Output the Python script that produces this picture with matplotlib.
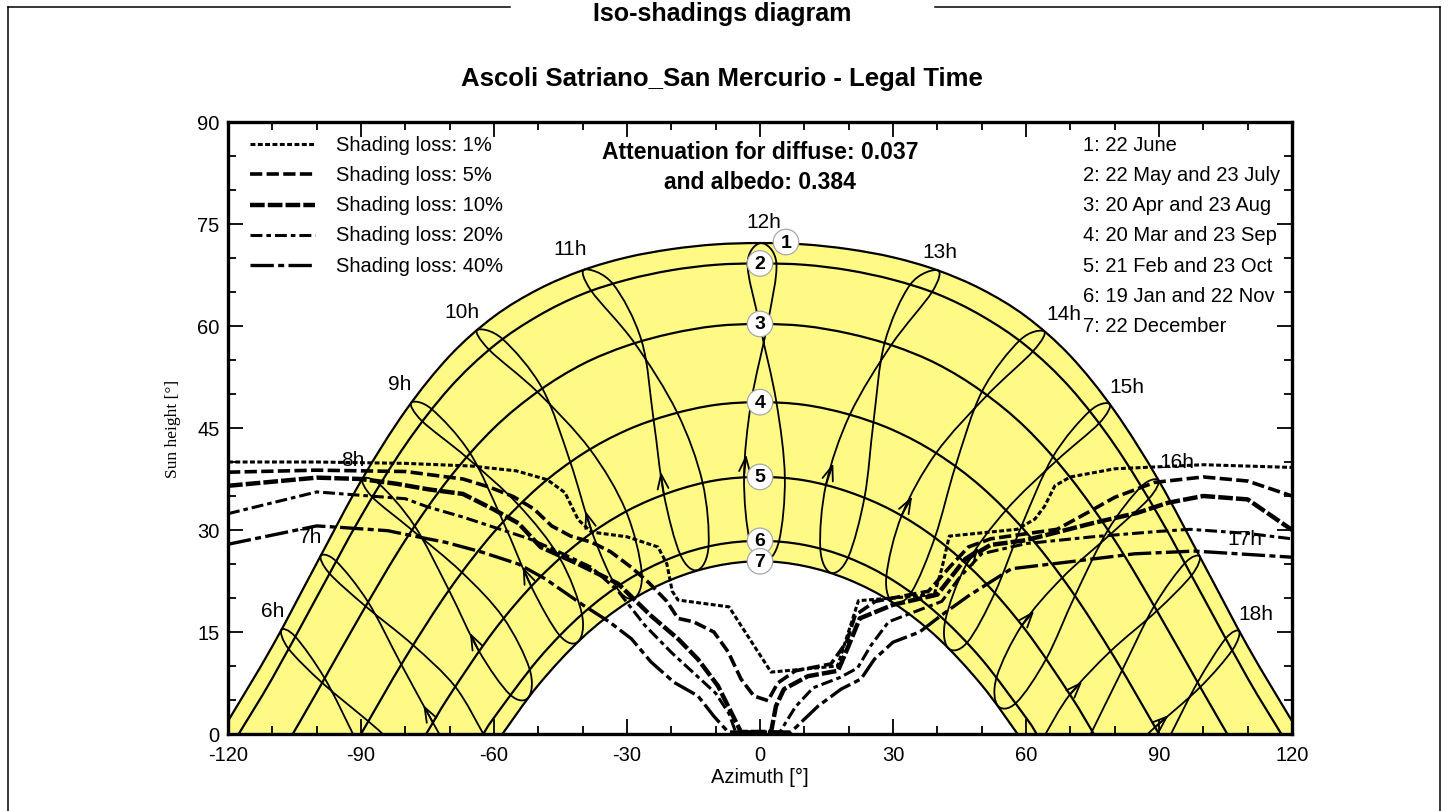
import matplotlib.pyplot as plt
from matplotlib.lines import Line2D
from matplotlib.path import Path
from matplotlib.patches import PathPatch

plt.rcParams['font.family'] = ['Liberation Sans', 'DejaVu Sans']
plt.rcParams['axes.unicode_minus'] = False

# sun paths for the 7 reference dates (azimuth [deg], sun height [deg])
date_labels = ['1', '2', '3', '4', '5', '6', '7']
c1_az = [-120, -110, -100, -90, -80, -70, -60, -50, -40, -30, -20, -10, 0,
         10, 20, 30, 40, 50, 60, 70, 80, 90, 100, 110, 120]
c1_h = [1.9, 12.9, 25.1, 37.2, 47.5, 55.6, 61.4, 65.4, 68.2, 70.1, 71.3, 72.0, 72.2,
        72.0, 71.3, 70.1, 68.2, 65.4, 61.4, 55.6, 47.5, 37.2, 25.1, 12.9, 1.9]
c2_az = [-117.6, -110, -100, -90, -80, -70, -60, -50, -40, -30, -20, -10, 0,
         10, 20, 30, 40, 50, 60, 70, 80, 90, 100, 110, 117.6]
c2_h = [0, 8.2, 20.1, 32.0, 42.5, 50.9, 57.1, 61.5, 64.7, 66.8, 68.2, 69.0, 69.2,
        69.0, 68.2, 66.8, 64.7, 61.5, 57.1, 50.9, 42.5, 32.0, 20.1, 8.2, 0]
c3_az = [-105.4, -100, -90, -80, -70, -60, -50, -40, -30, -20, -10, 0,
         10, 20, 30, 40, 50, 60, 70, 80, 90, 100, 105.4]
c3_h = [0, 6.1, 17.6, 28.5, 37.7, 45.0, 50.4, 54.4, 57.1, 58.9, 60.0, 60.3,
        60.0, 58.9, 57.1, 54.4, 50.4, 45.0, 37.7, 28.5, 17.6, 6.1, 0]
c4_az = [-90, -80, -70, -60, -50, -40, -30, -20, -10, 0, 10, 20, 30, 40, 50, 60, 70, 80, 90]
c4_h = [0, 11.2, 21.3, 29.7, 36.3, 41.2, 44.7, 47.0, 48.4, 48.8,
        48.4, 47.0, 44.7, 41.2, 36.3, 29.7, 21.3, 11.2, 0]
c5_az = [-75.3, -70, -60, -50, -40, -30, -20, -10, 0, 10, 20, 30, 40, 50, 60, 70, 75.3]
c5_h = [0, 5.7, 15.2, 22.8, 28.6, 32.8, 35.6, 37.3, 37.8, 37.3, 35.6, 32.8, 28.6, 22.8, 15.2, 5.7, 0]
c6_az = [-62.4, -60, -50, -40, -30, -20, -10, 0, 10, 20, 30, 40, 50, 60, 62.4]
c6_h = [0, 2.4, 11.0, 17.7, 22.6, 25.9, 27.8, 28.4, 27.8, 25.9, 22.6, 17.7, 11.0, 2.4, 0]
c7_az = [-58.1, -50, -40, -30, -20, -10, 0, 10, 20, 30, 40, 50, 58.1]
c7_h = [0, 7.2, 14.2, 19.3, 22.7, 24.7, 25.4, 24.7, 22.7, 19.3, 14.2, 7.2, 0]
date_az = [c1_az, c2_az, c3_az, c4_az, c5_az, c6_az, c7_az]
date_h = [c1_h, c2_h, c3_h, c4_h, c5_h, c6_h, c7_h]
date_names = ['1: 22 June', '2: 22 May and 23 July', '3: 20 Apr and 23 Aug',
              '4: 20 Mar and 23 Sep', '5: 21 Feb and 23 Oct', '6: 19 Jan and 22 Nov',
              '7: 22 December']

# hour lines (analemmas), points on the date curves through the year
hour_names = ['6h', '7h', '8h', '9h', '10h', '11h', '12h', '13h', '14h', '15h', '16h', '17h', '18h']
hour_az = [
    [-91.8, -98.2, -104.8, -108.0, -106.3, -98.7, -88.4, -85.1],
    [-72.3, -73.8, -80.9, -88.4, -95.6, -99.1, -97.1, -89.0, -78.3, -68.8, -62.4],
    [-52.2, -56.4, -63.4, -70.2, -77.9, -85.8, -89.7, -87.4, -78.5, -67.3, -57.9, -52.0, -52.2],
    [-41.0, -45.2, -51.6, -58.0, -65.4, -74.1, -78.7, -76.2, -66.2, -54.5, -45.2, -40.2, -41.0],
    [-28.3, -32.4, -37.9, -42.8, -49.1, -58.1, -63.8, -61.1, -50.2, -38.4, -30.3, -26.7, -28.3],
    [-14.1, -18.0, -21.7, -24.0, -26.7, -33.2, -39.6, -38.1, -28.3, -18.7, -13.0, -11.6, -14.1],
    [1.0, -2.3, -3.6, -2.0, 1.7, 3.7, 0.3, -2.8, -0.1, 3.7, 5.6, 4.3, 1.0],
    [16.0, 13.6, 14.9, 20.3, 29.6, 38.8, 40.1, 33.9, 28.1, 25.6, 23.6, 19.9, 16.0],
    [30.0, 28.5, 32.0, 39.7, 51.2, 61.6, 64.1, 58.6, 50.1, 44.1, 39.5, 34.2, 30.0],
    [42.5, 41.8, 46.6, 55.6, 66.9, 76.5, 78.9, 74.4, 66.1, 59.0, 53.0, 46.8, 42.5],
    [53.6, 53.4, 59.1, 68.2, 79.1, 87.7, 89.9, 86.0, 78.5, 71.1, 64.6, 57.8, 53.6],
    [64.4, 69.9, 79.1, 89.5, 97.3, 99.2, 95.8, 88.9, 81.7, 74.6],
    [87.5, 89.1, 99.3, 106.5, 108.1, 105.0, 98.7, 92.7],
]
hour_h = [
    [0, 8.2, 14.3, 15.3, 12.5, 7.5, 1.9, 0],
    [0, 1.7, 10.2, 19.4, 25.4, 26.2, 23.6, 18.8, 13.1, 7.0, 0],
    [5.4, 5.8, 12.2, 21.2, 30.6, 36.7, 37.5, 34.8, 30.0, 23.8, 17.1, 9.6, 5.4],
    [13.6, 14.5, 21.7, 31.3, 41.3, 47.8, 48.7, 46.0, 40.7, 33.7, 25.9, 17.7, 13.6],
    [20.0, 21.6, 29.7, 40.0, 50.8, 58.1, 59.4, 56.5, 50.3, 41.9, 32.9, 23.9, 20.0],
    [24.1, 26.4, 35.3, 46.2, 57.8, 66.2, 68.3, 65.2, 57.5, 47.3, 37.1, 27.7, 24.1],
    [25.4, 28.4, 37.8, 48.8, 60.3, 69.2, 72.2, 69.2, 60.3, 48.8, 37.8, 28.4, 25.4],
    [23.7, 27.3, 36.7, 47.0, 57.2, 65.0, 68.2, 66.1, 57.5, 45.9, 34.9, 26.0, 23.7],
    [19.3, 23.2, 32.2, 41.3, 49.8, 56.3, 59.2, 57.9, 50.4, 39.4, 29.0, 20.9, 19.3],
    [12.6, 16.7, 25.0, 33.0, 40.2, 45.7, 48.5, 47.5, 40.8, 30.6, 20.8, 13.5, 12.6],
    [4.2, 8.4, 16.0, 23.0, 29.4, 34.6, 37.3, 36.4, 30.0, 20.4, 11.1, 4.6, 4.2],
    [0, 5.8, 12.2, 18.1, 23.3, 26.1, 25.1, 18.8, 9.4, 0],
    [0, 1.0, 6.9, 12.3, 15.1, 14.0, 7.6, 0],
]
# index of the spring point where the direction arrow sits
hour_arrow = [None, 1, 2, 2, 2, 2, 2, 2, 2, 2, 2, 1, 1]

# iso-shading curves (azimuth [deg], sun height [deg])
iso_names = ['Shading loss: 1%', 'Shading loss: 5%', 'Shading loss: 10%',
             'Shading loss: 20%', 'Shading loss: 40%']
iso1_az = [-120, -100, -80, -65, -55, -48, -44, -41, -38, -30, -23, -21, -19.8, -18.5, -7,
           2.5, 17.5, 22.2, 39.3, 41, 42.7, 58, 62, 64.2, 66.5, 70, 80, 100, 120]
iso1_h = [40.0, 40.0, 39.8, 39.4, 38.7, 37.4, 35.5, 31.5, 29.7, 29.0, 27.5, 25.0, 21.0, 19.7, 18.7,
          9.1, 10.0, 19.6, 20.5, 24.3, 29.1, 30.1, 31.6, 33.5, 36.5, 37.8, 39.0, 39.6, 39.2]
iso5_az = [-120, -100, -80, -67, -61, -55.6, -51, -47, -42.7, -38, -33.7, -29, -25, -21, -18.5,
           -15, -10.4, -7.2, -4.3, -1.4, 1.8, 4, 8, 16, 19.5, 21.5, 26, 38, 43, 47, 52, 67, 74,
           80, 89, 100, 110, 120]
iso5_h = [38.5, 38.8, 38.6, 37.5, 36.3, 34.9, 33.1, 30.6, 29.1, 28.2, 26.8, 24.5, 22.2, 19.5, 17.0,
          16.5, 15.0, 12.1, 8.1, 5.6, 4.9, 7.5, 9.3, 10.3, 13.5, 17.5, 19.5, 21.0, 24.7, 27.5, 28.7,
          30.1, 32.6, 34.8, 37.0, 37.8, 37.2, 35.0]
iso10_az = [-120, -100, -90, -82, -75, -67, -60, -54.5, -49.5, -41, -32, -24.6, -18.5, -14,
            -9.5, -7.2, -4.3, 2.5, 3.6, 5.4, 10.8, 17.6, 20, 22.5, 30, 40, 46, 52, 60, 66, 75,
            85, 92, 100, 110, 120]
iso10_h = [36.5, 37.7, 37.5, 36.8, 36.0, 35.3, 33.0, 31.0, 27.5, 25.0, 22.1, 17.4, 14.0, 11.0,
           7.1, 4.1, 0.3, 0.3, 4.1, 6.6, 8.5, 9.3, 13.0, 17.0, 19.0, 20.5, 25.5, 27.8, 28.5, 29.5,
           31.0, 32.5, 34.0, 35.0, 34.5, 30.0]
iso20_az = [-120, -100, -88, -80, -75, -67, -60, -52, -45.4, -38, -32, -26, -20, -15, -10,
            -7, -5.5, 4.5, 8, 12, 18, 22, 25, 29, 35, 41, 45, 50, 60, 75, 90, 97, 110, 120]
iso20_h = [32.4, 35.6, 35.0, 34.6, 33.4, 31.9, 30.4, 28.7, 26.8, 24.5, 21.0, 16.0, 12.0, 9.0,
           6.0, 3.0, 0.3, 0.3, 4.0, 6.8, 8.3, 9.7, 13.0, 16.5, 18.0, 19.5, 23.0, 26.5, 28.0,
           29.0, 29.8, 30.1, 29.5, 28.7]
iso40_az = [-120, -100, -95, -84, -78, -71, -63, -54.5, -48.4, -40, -34, -29, -24.6, -19.4,
            -14, -10.4, -7.2, 7, 13.1, 18.3, 22.8, 25.8, 30, 36, 41, 47, 56.7, 69.6,
            84.5, 98, 120]
iso40_h = [27.9, 30.6, 30.4, 29.9, 29.1, 28.2, 26.8, 25.0, 22.8, 19.0, 16.5, 14.0, 10.6, 7.6,
           5.6, 2.6, 0.3, 0.3, 4.1, 6.6, 8.1, 11.0, 13.5, 15.0, 17.5, 20.3, 24.3, 25.3,
           26.5, 26.9, 26.0]
iso_az = [iso1_az, iso5_az, iso10_az, iso20_az, iso40_az]
iso_h = [iso1_h, iso5_h, iso10_h, iso20_h, iso40_h]
iso_lw = [2.2, 2.6, 3.2, 2.2, 2.4]
iso_dash = [(1.6, 0.8), (3.4, 1.2), (3.3, 0.7), (3.9, 1.3, 1.5, 1.3), (7.0, 1.3, 1.8, 1.3)]

YELLOW = '#fefa85'


def smooth(xs, ys):
    # Catmull-Rom curve through the points, as cubic Bezier pieces
    pts = list(zip(xs, ys))
    closed = pts[0] == pts[-1]
    if closed:
        pts = pts[:-1]
        m = len(pts)
        get = lambda i: pts[i % m]
        nseg = m
    else:
        m = len(pts)
        get = lambda i: pts[min(max(i, 0), m - 1)]
        nseg = m - 1
    verts = [get(0)]
    codes = [Path.MOVETO]
    for i in range(nseg):
        p0, p1, p2, p3 = get(i - 1), get(i), get(i + 1), get(i + 2)
        c1 = (p1[0] + (p2[0] - p0[0]) / 6, p1[1] + (p2[1] - p0[1]) / 6)
        c2 = (p2[0] - (p3[0] - p1[0]) / 6, p2[1] - (p3[1] - p1[1]) / 6)
        verts += [c1, c2, p2]
        codes += [Path.CURVE4] * 3
    return verts, codes


fig = plt.figure(figsize=(14.48, 8.12), dpi=100)
ax = fig.add_axes([228 / 1448, 77 / 812, 1064 / 1448, 612 / 812])

# yellow band between 22 June and 22 December
v1, k1 = smooth(c1_az, c1_h)
v7, k7 = smooth(c7_az[::-1], c7_h[::-1])
band_v = v1 + [(c1_az[-1], 0), (c7_az[-1], 0)] + v7[1:] + [(c1_az[0], 0), (c1_az[0], 0)]
band_k = k1 + [Path.LINETO, Path.LINETO] + k7[1:] + [Path.LINETO, Path.CLOSEPOLY]
ax.add_patch(PathPatch(Path(band_v, band_k), fc=YELLOW, ec='none', zorder=1))

for az, h in zip(date_az, date_h):
    v, k = smooth(az, h)
    ax.add_patch(PathPatch(Path(v, k), fill=False, ec='black', lw=1.6, zorder=3))

for az, h, k in zip(hour_az, hour_h, hour_arrow):
    v, c = smooth(az, h)
    ax.add_patch(PathPatch(Path(v, c), fill=False, ec='black', lw=1.3, zorder=3))
    if k is not None:
        tip = (az[k] + 0.3 * (az[k + 1] - az[k]), h[k] + 0.3 * (h[k + 1] - h[k]))
        ax.annotate('', xy=tip, xytext=(az[k], h[k]),
                    arrowprops=dict(arrowstyle='->,head_length=0.75,head_width=0.28',
                                    lw=1.3, color='black', shrinkA=0, shrinkB=0,
                                    mutation_scale=14), zorder=4)

for az, h, lw, dash in zip(iso_az, iso_h, iso_lw, iso_dash):
    ax.plot(az, h, color='black', lw=lw, dashes=dash, zorder=5)

# hour labels at the June end of each hour line
hour_off = [(-9, 19), (-10, 19), (-10, 19), (-11, 19), (-15, 19), (-14, 21), (2, 22),
            (2, 19), (20, 18), (17, 18), (18, 19), (45, 18), (17, 18)]
for name, az, h, off in zip(hour_names, hour_az, hour_h, hour_off):
    top = max(range(len(h)), key=lambda i: h[i])
    ax.annotate(name, xy=(az[top], h[top]), xytext=off, textcoords='offset pixels',
                ha='center', va='center', fontsize=15, zorder=6)

# numbered circles at the noon height of each date
for i, (lab, az, h) in enumerate(zip(date_labels, date_az, date_h)):
    j = az.index(0)
    off = (26, 1) if i == 0 else (0, 0)
    ax.annotate(lab, xy=(az[j], h[j]), xytext=off, textcoords='offset pixels',
                ha='center', va='center', fontsize=14, fontweight='bold', zorder=7,
                bbox=dict(boxstyle='circle,pad=0.22', fc='white', ec='#a8a8a8', lw=0.9))

# legends drawn as in the original
for i, (name, lw, dash) in enumerate(zip(iso_names, iso_lw, iso_dash)):
    y = 0.964 - i * 0.0495
    ax.add_line(Line2D([0.0207, 0.0818], [y, y], transform=ax.transAxes, color='black',
                       lw=lw, dashes=dash, zorder=6))
    ax.text(0.1015, y, name, transform=ax.transAxes, ha='left', va='center', fontsize=14.5)
for i, name in enumerate(date_names):
    ax.text(0.8036, 0.964 - i * 0.0495, name, transform=ax.transAxes, ha='left',
            va='center', fontsize=14.5)
ax.text(0.5, 0.951, 'Attenuation for diffuse: 0.037', transform=ax.transAxes,
        ha='center', va='center', fontsize=16.5, fontweight='bold')
ax.text(0.5, 0.902, 'and albedo: 0.384', transform=ax.transAxes,
        ha='center', va='center', fontsize=16.5, fontweight='bold')

ax.set_xlim(-120, 120)
ax.set_ylim(0, 90)
ax.set_xticks(range(-120, 121, 30))
ax.set_xticks(range(-120, 121, 10), minor=True)
ax.set_yticks(range(0, 91, 15))
ax.set_yticks(range(0, 91, 5), minor=True)
ax.tick_params(which='both', direction='in', top=True, right=True, labelsize=14.5, width=1.3)
ax.tick_params(which='major', length=11)
ax.tick_params(which='minor', length=6)
ax.tick_params(axis='x', pad=8)
ax.tick_params(axis='y', pad=6)
for sp in ax.spines.values():
    sp.set_linewidth(2.4)
ax.set_xlabel('Azimuth [°]', fontsize=14.5, labelpad=2)
ax.set_ylabel('Sun height [°]', fontsize=12.5, family=['Liberation Serif', 'DejaVu Serif'],
              labelpad=12)

# page frame and titles
fy = 1 - 8 / 812
for xs, ys in [([8 / 1448, 8 / 1448], [0, fy]), ([1440 / 1448, 1440 / 1448], [0, fy]),
               ([8 / 1448, 510 / 1448], [fy, fy]), ([935 / 1448, 1440 / 1448], [fy, fy])]:
    fig.add_artist(Line2D(xs, ys, color='black', lw=1.1))
fig.text(0.4986, 1 - 21 / 812, 'Iso-shadings diagram', ha='center', va='baseline',
         fontsize=18, fontweight='bold')
fig.text(0.4986, 1 - 86 / 812, 'Ascoli Satriano_San Mercurio - Legal Time', ha='center',
         va='baseline', fontsize=18.5, fontweight='bold')

fig.savefig('out.png', dpi=100, facecolor='white')
